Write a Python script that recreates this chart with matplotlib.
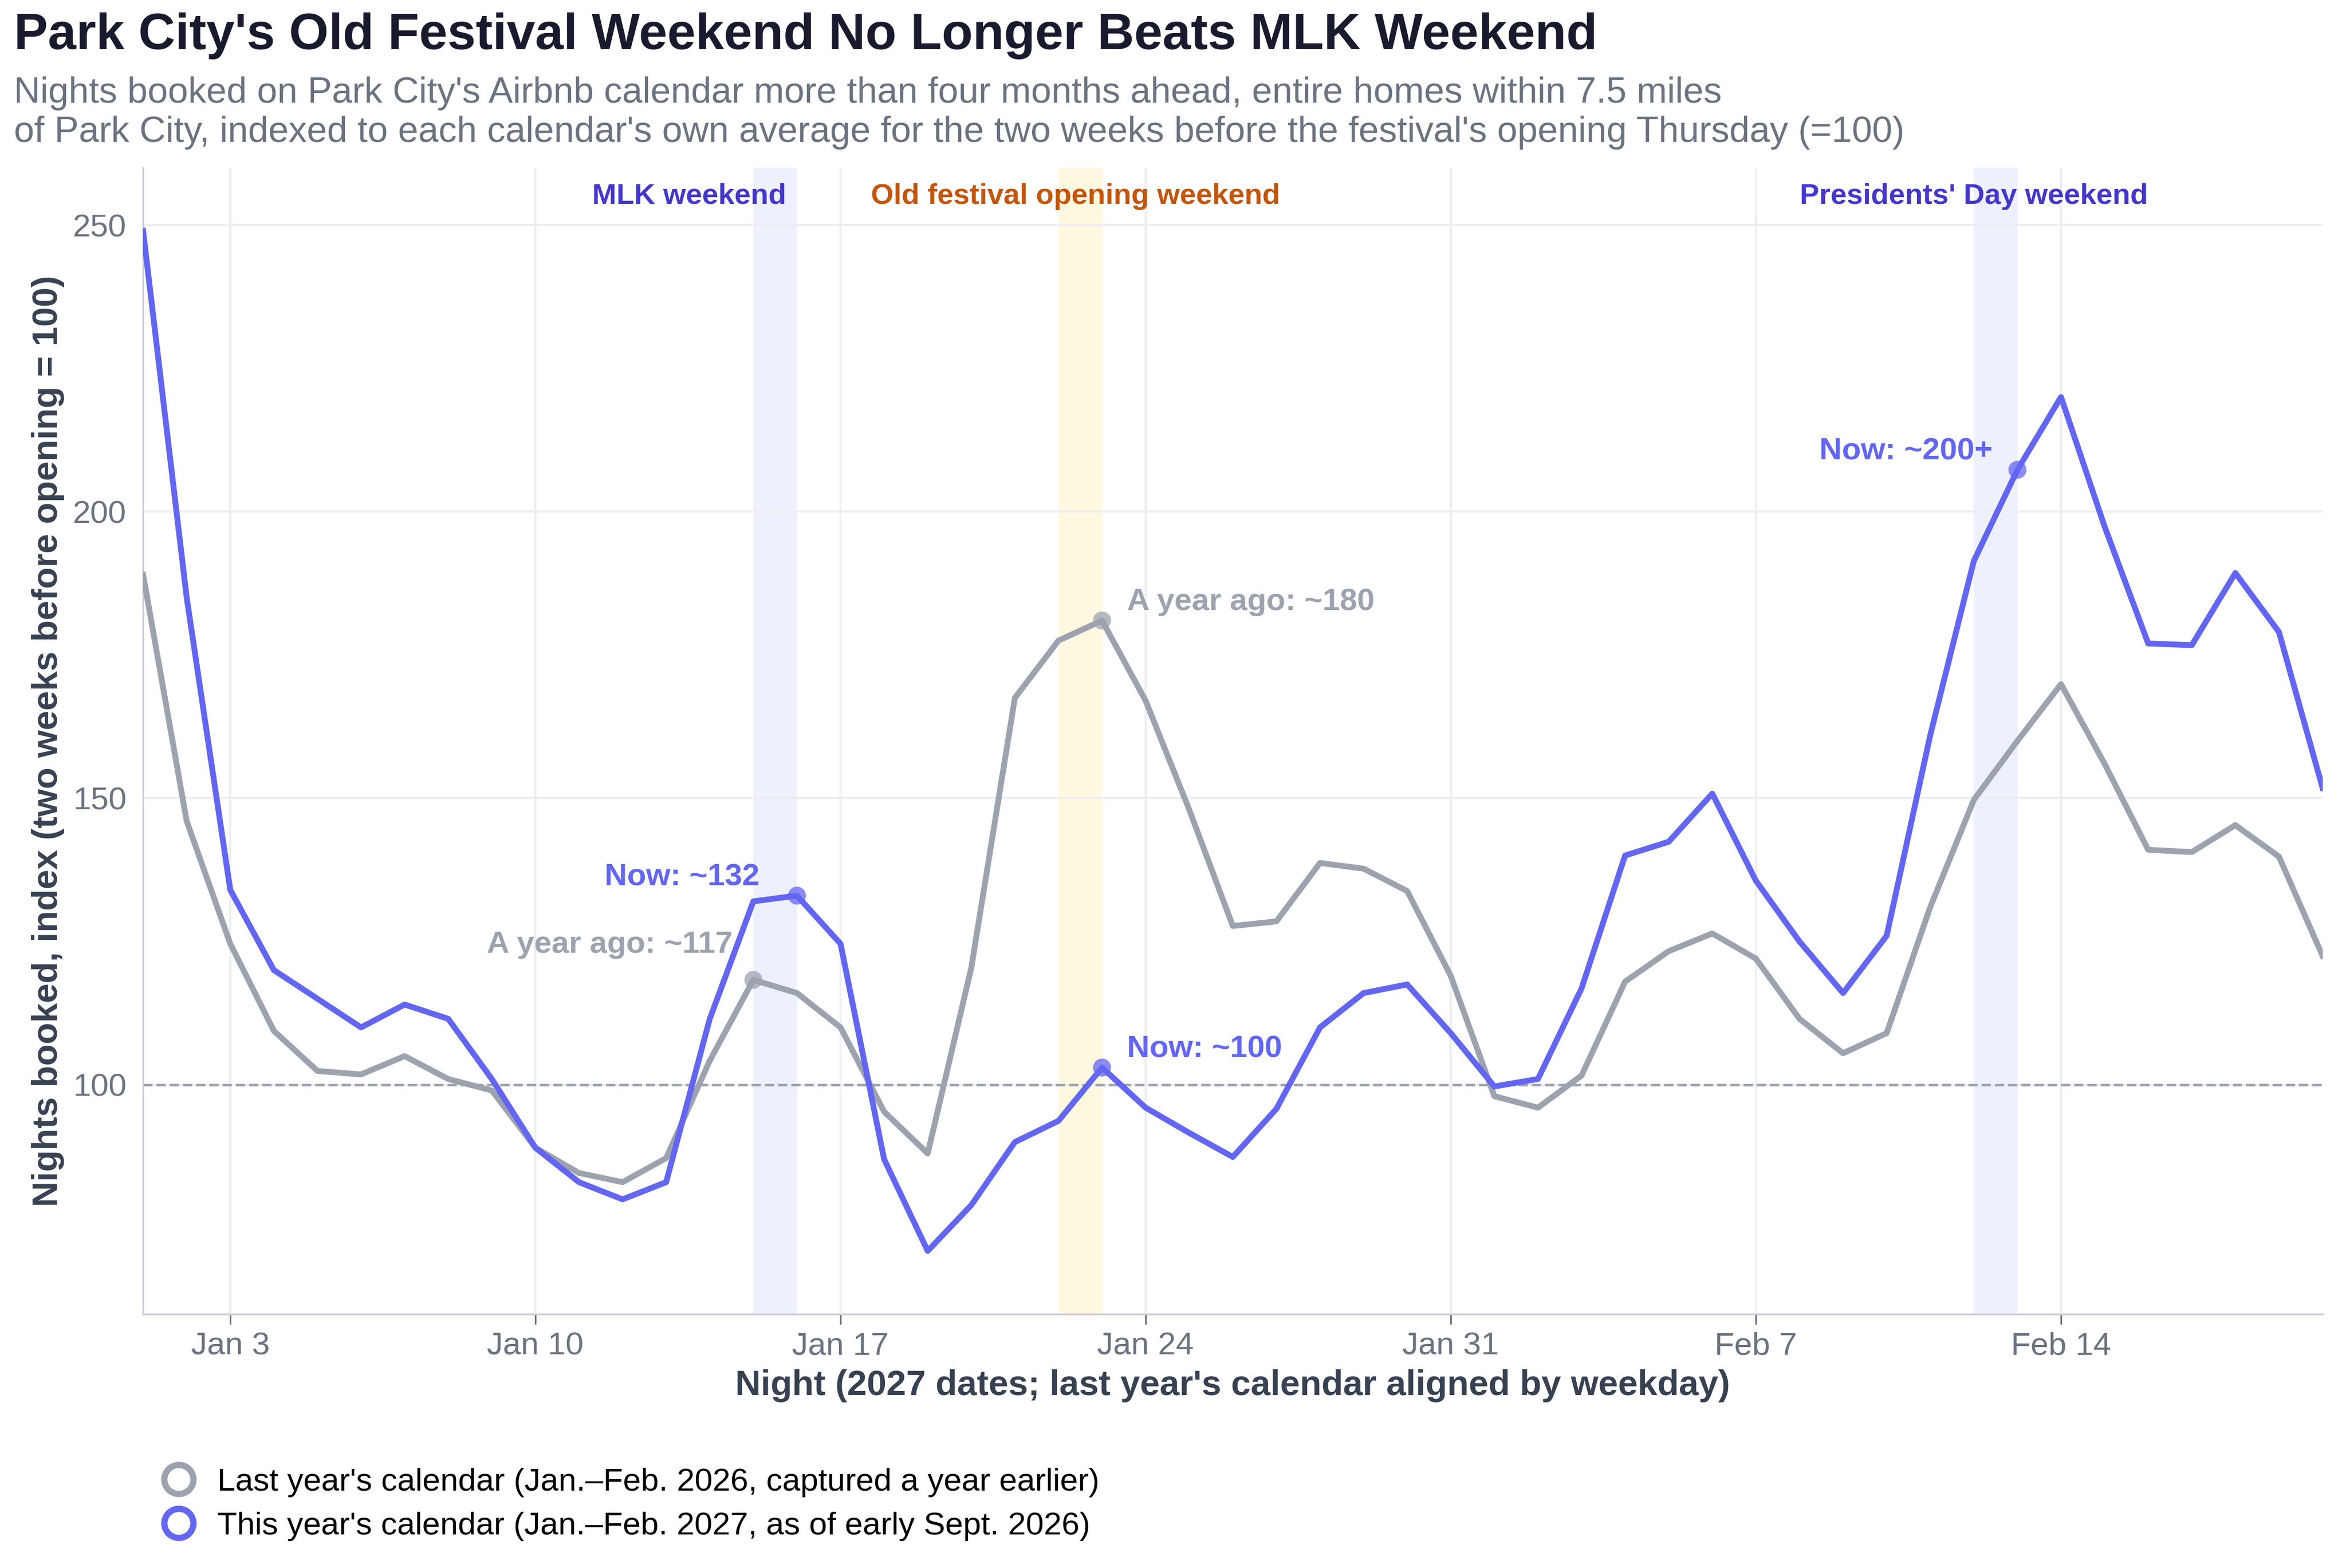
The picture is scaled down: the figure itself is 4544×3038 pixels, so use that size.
import numpy as np
import pandas as pd
import matplotlib.pyplot as plt
import matplotlib.dates as mdates
from matplotlib.lines import Line2D

plt.rcParams['font.family'] = ['Liberation Sans', 'DejaVu Sans']

dates = pd.date_range('2027-01-01', '2027-02-20', freq='D')

this_year = [249, 185, 134, 120, 115, 110, 114, 111.5, 101, 89,
             83, 80, 83, 111.5, 132, 133, 124.6, 87, 71, 79,
             90, 93.7, 103, 96, 91.6, 87.4, 95.8, 110, 116, 117.5,
             109, 99.7, 101, 116.8, 140, 142.4, 150.8, 135.6, 125, 116,
             126, 161, 191.4, 207.3, 220, 197.4, 177, 176.7, 189.3, 179,
             151.8]
last_year = [189, 146, 124.6, 109.4, 102.4, 101.8, 105, 101, 99, 89,
             84.6, 83, 87.2, 104.2, 118.3, 116, 110, 95.3, 88, 120.4,
             167.5, 177.5, 181, 167, 148, 127.7, 128.5, 138.7, 137.7, 133.8,
             119, 98, 96, 101.6, 118, 123.3, 126.4, 122, 111.5, 105.5,
             109, 131, 149.7, 160, 169.9, 156, 141, 140.6, 145.3, 139.8,
             122.5]

BLUE = '#6366f1'
GRAY = '#9ca3af'

fig = plt.figure(figsize=(4544 / 290, 3038 / 290), dpi=290)
ax = fig.add_axes([0.061, 0.162, 0.929, 0.731])

# highlighted weekends: (start, end, colour, label, label colour, label anchor day offset, ha)
bands = [('2027-01-15', '2027-01-16', '#eef0fe', 'MLK weekend', '#4338ca', 0.75, 'right'),
         ('2027-01-22', '2027-01-23', '#fef8e1', 'Old festival opening weekend', '#c2560c', -4.3, 'left'),
         ('2027-02-12', '2027-02-13', '#eef0fe', "Presidents' Day weekend", '#4338ca', 0.0, 'center')]
for start, end, col, txt, tcol, off, ha in bands:
    s, e = pd.Timestamp(start), pd.Timestamp(end)
    ax.axvspan(s, e, color=col, zorder=0, lw=0)
    ax.text(s + pd.Timedelta(days=off), 255, txt, color=tcol, fontsize=14,
            fontweight='bold', ha=ha, va='center')

ax.axhline(100, color='#9ca3af', ls='--', lw=1.2, zorder=1)
ax.plot(dates, last_year, color=GRAY, lw=2.8, zorder=3)
ax.plot(dates, this_year, color=BLUE, lw=2.8, zorder=4)

# annotated points
pts = [(14, last_year, GRAY, 'A year ago: ~117', -10, 10, 'right'),
       (15, this_year, BLUE, 'Now: ~132', -18, 2, 'right'),
       (22, last_year, GRAY, 'A year ago: ~180', 12, 2, 'left'),
       (22, this_year, BLUE, 'Now: ~100', 12, 2, 'left'),
       (43, this_year, BLUE, 'Now: ~200+', -12, 2, 'right')]
for i, series, col, txt, dx, dy, ha in pts:
    ax.scatter(dates[i], series[i], s=75, color=col, alpha=0.75, zorder=5, edgecolor='none')
    ax.annotate(txt, (dates[i], series[i]), xytext=(dx, dy), textcoords='offset points',
                color=col, fontsize=15, fontweight='bold', ha=ha, va='bottom')

ax.set_xlim(dates[0], dates[-1])
ax.set_ylim(60, 260)
ax.set_yticks([100, 150, 200, 250])
ticks = pd.date_range('2027-01-03', '2027-02-14', freq='7D')
ax.set_xticks(ticks)
ax.set_xticklabels([d.strftime('%b ') + str(d.day) for d in ticks])
ax.grid(True, color='#eeeef2', lw=1)
ax.set_axisbelow(True)
for side in ['top', 'right']:
    ax.spines[side].set_visible(False)
for side in ['left', 'bottom']:
    ax.spines[side].set_color('#c8cad8')
ax.tick_params(colors='#6b7280', labelsize=15.5, length=5)
ax.tick_params(axis='y', length=0, pad=8)

ax.set_xlabel("Night (2027 dates; last year's calendar aligned by weekday)",
              fontsize=17, fontweight='bold', color='#374151', labelpad=4)
ax.set_ylabel('Nights booked, index (two weeks before opening = 100)',
              fontsize=17, fontweight='bold', color='#374151', labelpad=4)

fig.text(0.006, 0.977, "Park City's Old Festival Weekend No Longer Beats MLK Weekend",
         fontsize=24.5, fontweight='bold', color='#1a1a2e', va='center')
fig.text(0.006, 0.928, "Nights booked on Park City's Airbnb calendar more than four months ahead, entire homes within 7.5 miles\n"
         "of Park City, indexed to each calendar's own average for the two weeks before the festival's opening Thursday (=100)",
         fontsize=17.5, color='#6b7280', va='center', linespacing=1.2)

handles = [Line2D([], [], marker='o', ls='none', markersize=14, markerfacecolor='white',
                  markeredgecolor=GRAY, markeredgewidth=3),
           Line2D([], [], marker='o', ls='none', markersize=14, markerfacecolor='white',
                  markeredgecolor=BLUE, markeredgewidth=3)]
fig.legend(handles, ["Last year's calendar (Jan.\u2013Feb. 2026, captured a year earlier)",
                     "This year's calendar (Jan.\u2013Feb. 2027, as of early Sept. 2026)"],
           loc='upper left', bbox_to_anchor=(0.057, 0.072), frameon=False, fontsize=15.5,
           handletextpad=0.2, labelspacing=0.45, borderaxespad=0)

fig.savefig('out.png', dpi=290)
